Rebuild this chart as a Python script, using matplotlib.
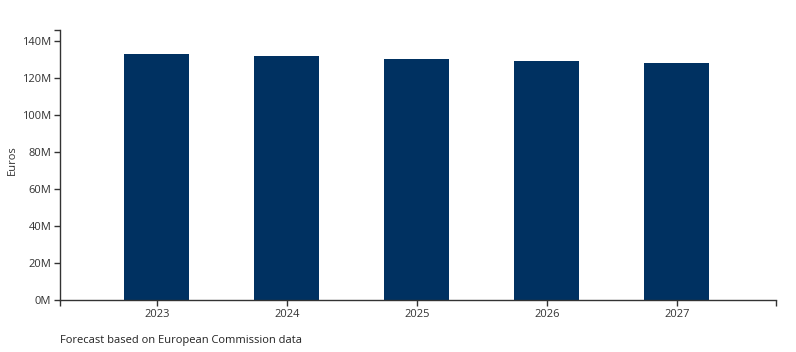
import matplotlib.pyplot as plt
import numpy as np

# data
years = ['2023', '2024', '2025', '2026', '2027']
euros_m = [132.8, 131.7, 130.3, 129.2, 128.1]
yticks = [0, 20, 40, 60, 80, 100, 120, 140]
ytick_labels = [f'{v}M' for v in yticks]

plt.rcParams['font.family'] = ['Open Sans', 'DejaVu Sans']
axis_col = '#333333'

fig = plt.figure(figsize=(7.96, 3.52), dpi=100)
ax = fig.add_axes([60 / 796, 52 / 352, 716 / 796, 270 / 352])

x = np.arange(len(years))
ax.bar(x, euros_m, width=0.5, color='#003161')

ymax = 145.9
xlo, xhi = -0.746, 4.762
ax.set_ylim(0, ymax)
ax.set_xlim(xlo, xhi)

ax.set_xticks(x)
ax.set_xticklabels(years)
ax.set_yticks(yticks)
ax.set_yticklabels(ytick_labels)
# outer ticks at the domain ends, like the d3 axis
ax.set_yticks([ymax], minor=True)
ax.set_xticks([xlo, xhi], minor=True)

for s in ['top', 'right']:
    ax.spines[s].set_visible(False)
for s in ['left', 'bottom']:
    ax.spines[s].set_color(axis_col)
    ax.spines[s].set_linewidth(1)

ax.tick_params(which='both', length=4.3, width=1, color=axis_col,
               labelsize=8, labelcolor='#333333', pad=2)

fig.text(12 / 796, 1 - 160 / 352, 'Euros', rotation=90, fontsize=8,
         color='#333333', ha='center', va='center')
fig.text(60 / 796, 1 - 341 / 352, 'Forecast based on European Commission data',
         fontsize=8, color='#222222', va='center', ha='left')

fig.savefig('out.png', dpi=100)
